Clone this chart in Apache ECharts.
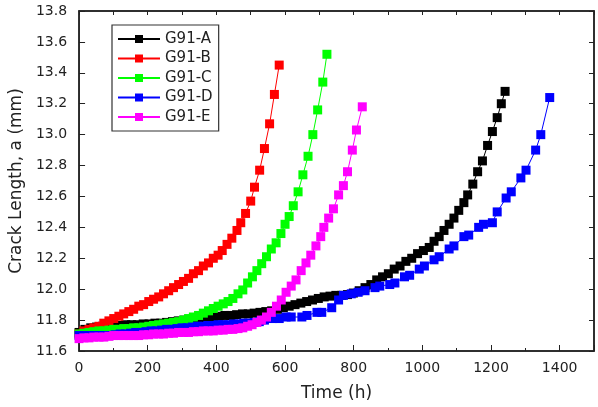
<!DOCTYPE html>
<html>
<head>
<meta charset="utf-8">
<script src="https://cdn.jsdelivr.net/npm/echarts@6/dist/echarts.min.js"></script>
<style>
  html, body { margin: 0; padding: 0; background: #fff; overflow: hidden; }
  #chart { width: 598px; height: 407px; }
</style>
</head>
<body>
<div id="chart"></div>
<script>
// [time (h), crack length (mm)]
const g91A = [
  [0, 11.72], [17, 11.74], [34, 11.75], [51, 11.755], [68, 11.76], [85, 11.76], [102, 11.765],
  [119, 11.765], [136, 11.77], [153, 11.77], [170, 11.77], [187, 11.775], [204, 11.775],
  [221, 11.78], [238, 11.78], [255, 11.785], [272, 11.79], [289, 11.795], [306, 11.80],
  [323, 11.805], [340, 11.81], [357, 11.815], [374, 11.82], [391, 11.82], [408, 11.825],
  [425, 11.83], [442, 11.83], [459, 11.835], [476, 11.84], [493, 11.84], [510, 11.845],
  [527, 11.85], [544, 11.855], [561, 11.86], [578, 11.87], [595, 11.88], [612, 11.89],
  [629, 11.90], [646, 11.91], [663, 11.92], [680, 11.93], [697, 11.94], [714, 11.95],
  [731, 11.955], [748, 11.96], [765, 11.96], [782, 11.965], [799, 11.975], [816, 11.99],
  [833, 12.01], [850, 12.03], [867, 12.06], [884, 12.08], [901, 12.10], [918, 12.13],
  [935, 12.15], [952, 12.18], [969, 12.20], [986, 12.23], [1003, 12.25], [1020, 12.27],
  [1034, 12.31], [1049, 12.34], [1063, 12.38], [1078, 12.42], [1092, 12.46], [1106, 12.51],
  [1121, 12.56], [1132, 12.61], [1147, 12.68], [1161, 12.76], [1175, 12.83], [1190, 12.93],
  [1204, 13.02], [1218, 13.11], [1230, 13.20], [1241, 13.28]
];
const g91B = [
  [0, 11.71], [14, 11.73], [29, 11.74], [43, 11.75], [58, 11.76], [72, 11.78], [87, 11.795],
  [101, 11.81], [116, 11.825], [130, 11.84], [145, 11.855], [159, 11.87], [174, 11.89],
  [188, 11.90], [203, 11.92], [217, 11.935], [232, 11.95], [246, 11.97], [261, 11.99],
  [275, 12.01], [290, 12.03], [304, 12.05], [319, 12.07], [333, 12.10], [348, 12.12],
  [362, 12.15], [377, 12.17], [391, 12.20], [405, 12.22], [417, 12.25], [431, 12.29],
  [445, 12.33], [460, 12.38], [471, 12.43], [485, 12.49], [500, 12.57], [511, 12.66],
  [526, 12.77], [540, 12.91], [555, 13.07], [569, 13.26], [583, 13.45]
];
const g91C = [
  [0, 11.71], [14, 11.715], [29, 11.72], [43, 11.725], [58, 11.73], [72, 11.73], [87, 11.735],
  [101, 11.74], [116, 11.74], [130, 11.745], [145, 11.745], [159, 11.75], [174, 11.75],
  [188, 11.755], [203, 11.76], [217, 11.765], [232, 11.77], [246, 11.775], [261, 11.78],
  [275, 11.785], [290, 11.79], [304, 11.80], [319, 11.81], [333, 11.82], [348, 11.83],
  [362, 11.845], [377, 11.86], [391, 11.875], [405, 11.89], [420, 11.905], [434, 11.92],
  [448, 11.94], [463, 11.97], [477, 11.995], [491, 12.04], [505, 12.08], [518, 12.12],
  [532, 12.165], [546, 12.21], [560, 12.26], [574, 12.30], [588, 12.36], [600, 12.42],
  [612, 12.47], [624, 12.54], [638, 12.63], [652, 12.74], [667, 12.86], [681, 13.00],
  [695, 13.16], [710, 13.34], [722, 13.52]
];
const g91D = [
  [0, 11.70], [15, 11.70], [30, 11.70], [45, 11.70], [60, 11.70], [75, 11.70], [90, 11.70],
  [105, 11.705], [120, 11.71], [135, 11.71], [150, 11.715], [165, 11.72], [180, 11.72],
  [195, 11.725], [210, 11.73], [225, 11.73], [240, 11.735], [255, 11.74], [270, 11.74],
  [285, 11.745], [300, 11.75], [315, 11.75], [330, 11.755], [345, 11.76], [360, 11.76],
  [375, 11.765], [390, 11.765], [405, 11.77], [420, 11.77], [435, 11.77], [450, 11.775],
  [465, 11.775], [480, 11.78], [495, 11.78], [510, 11.785], [525, 11.79], [540, 11.80],
  [563, 11.81], [583, 11.81], [603, 11.82], [618, 11.82], [649, 11.82], [664, 11.83],
  [693, 11.85], [707, 11.85], [736, 11.88], [756, 11.93], [770, 11.96], [793, 11.97],
  [813, 11.98], [833, 11.99], [862, 12.01], [876, 12.02], [905, 12.03], [920, 12.04],
  [948, 12.08], [963, 12.09], [991, 12.13], [1006, 12.15], [1034, 12.19], [1049, 12.21],
  [1078, 12.26], [1092, 12.28], [1121, 12.34], [1135, 12.35], [1164, 12.40], [1178, 12.42],
  [1204, 12.43], [1218, 12.50], [1244, 12.59], [1259, 12.63], [1287, 12.72], [1302, 12.77],
  [1330, 12.90], [1345, 13.00], [1371, 13.24]
];
const g91E = [
  [0, 11.68], [14, 11.685], [29, 11.685], [43, 11.69], [58, 11.69], [72, 11.69], [87, 11.695],
  [101, 11.70], [116, 11.70], [130, 11.70], [145, 11.70], [159, 11.70], [174, 11.70],
  [188, 11.705], [203, 11.705], [217, 11.71], [232, 11.71], [246, 11.71], [261, 11.715],
  [275, 11.715], [290, 11.72], [304, 11.72], [319, 11.72], [333, 11.725], [348, 11.725],
  [362, 11.73], [376, 11.73], [391, 11.73], [405, 11.735], [420, 11.735], [434, 11.74],
  [448, 11.74], [463, 11.745], [477, 11.75], [491, 11.76], [504, 11.77], [518, 11.785],
  [531, 11.80], [546, 11.82], [560, 11.85], [575, 11.89], [589, 11.93], [603, 11.98],
  [618, 12.02], [632, 12.06], [647, 12.12], [661, 12.17], [675, 12.22], [690, 12.28],
  [704, 12.34], [713, 12.40], [727, 12.46], [741, 12.52], [756, 12.61], [770, 12.67],
  [782, 12.76], [796, 12.90], [808, 13.03], [825, 13.18]
];

const seriesNames = ['G91-A', 'G91-B', 'G91-C', 'G91-D', 'G91-E'];
const seriesData = [g91A, g91B, g91C, g91D, g91E];
const seriesColors = ['#000000', '#ff0000', '#00ff00', '#0000ff', '#ff00ff'];

const FONT = 'DejaVu Sans';
const AXIS_COLOR = '#222';

const chart = echarts.init(document.getElementById('chart'), null, { renderer: 'canvas' });

const baseAxis = {
  axisLine: { show: true, onZero: false, lineStyle: { color: AXIS_COLOR, width: 1.5 } },
  splitLine: { show: false },
};

chart.setOption({
  animation: false,
  backgroundColor: '#fff',
  grid: { left: 72, right: 4, top: 11, bottom: 53, show: true, borderColor: AXIS_COLOR, borderWidth: 1.5 },
  legend: {
    left: 112,
    top: 25,
    orient: 'vertical',
    itemWidth: 42,
    itemHeight: 10,
    itemGap: 3.5,
    padding: [6, 6, 6, 5],
    borderColor: '#333',
    borderWidth: 1.2,
    textStyle: { fontFamily: FONT, fontSize: 15, lineHeight: 16, color: '#222' },
    data: seriesNames,
  },
  xAxis: [
    Object.assign({}, baseAxis, {
      type: 'value',
      min: 0,
      max: 1500,
      interval: 200,
      name: 'Time (h)',
      nameLocation: 'middle',
      nameGap: 34,
      nameTextStyle: { fontFamily: FONT, fontSize: 17, color: '#222' },
      axisTick: { inside: true, length: 6, lineStyle: { color: AXIS_COLOR } },
      minorTick: { show: true, splitNumber: 2, length: 3, lineStyle: { color: AXIS_COLOR } },
      axisLabel: {
        fontFamily: FONT, fontSize: 14, color: '#222', margin: 10,
        formatter: (v) => (v > 1400 ? '' : String(v)),
      },
    }),
    Object.assign({}, baseAxis, {
      type: 'value',
      position: 'top',
      min: 0,
      max: 1500,
      interval: 100,
      axisTick: { inside: true, length: 4, lineStyle: { color: AXIS_COLOR } },
      axisLabel: { show: false },
    }),
  ],
  yAxis: [
    Object.assign({}, baseAxis, {
      type: 'value',
      min: 11.6,
      max: 13.8,
      interval: 0.2,
      name: 'Crack Length, a (mm)',
      nameLocation: 'middle',
      nameGap: 54,
      nameTextStyle: { fontFamily: FONT, fontSize: 17, color: '#222' },
      axisTick: { inside: true, length: 6, lineStyle: { color: AXIS_COLOR } },
      axisLabel: {
        fontFamily: FONT, fontSize: 14, color: '#222', margin: 12,
        formatter: (v) => v.toFixed(1),
      },
    }),
    Object.assign({}, baseAxis, {
      type: 'value',
      position: 'right',
      min: 11.6,
      max: 13.8,
      interval: 0.2,
      axisTick: { show: true, inside: true, length: 5, lineStyle: { color: AXIS_COLOR } },
      axisLabel: { show: false },
    }),
  ],
  series: seriesNames.map((name, i) => ({
    name,
    type: 'line',
    xAxisIndex: 0,
    yAxisIndex: 0,
    data: seriesData[i],
    color: seriesColors[i],
    symbol: 'rect',
    symbolSize: 9,
    showSymbol: true,
    showAllSymbol: true,
    lineStyle: { width: 1, color: seriesColors[i] },
    itemStyle: { color: seriesColors[i] },
    emphasis: { disabled: true },
  })),
});
</script>
</body>
</html>
